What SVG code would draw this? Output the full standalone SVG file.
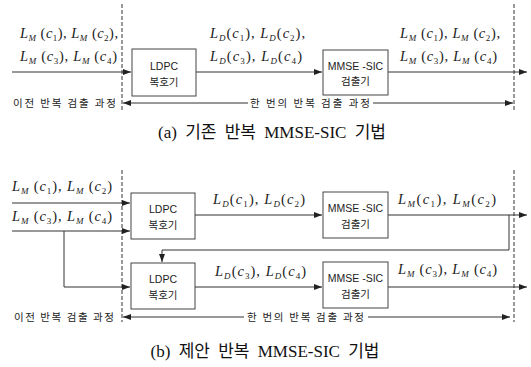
<svg xmlns="http://www.w3.org/2000/svg" width="531" height="367" viewBox="0 0 531 367">
<style>
.bg{fill:#fff}
.ln{stroke:#333;stroke-width:1;fill:none}
.dash{stroke:#333;stroke-width:1;stroke-dasharray:4 2;fill:none}
.box{stroke:#444;stroke-width:1;fill:#fff}
.m{font-family:"Liberation Serif",serif;font-size:14.5px;fill:#222}
.i{font-style:italic}
.s{font-size:9px}
.k{font-family:"Noto Sans CJK KR","Liberation Sans",sans-serif;font-size:10.5px;fill:#222}
.b{font-family:"Liberation Sans","Noto Sans CJK KR",sans-serif;font-size:10.5px;fill:#222;text-anchor:middle}
.cap{font-family:"Liberation Serif","Noto Sans CJK KR",serif;font-size:17px;fill:#111;text-anchor:middle;word-spacing:4px}
</style>
<defs>
<marker id="ah" viewBox="0 0 8 6" refX="8" refY="3" markerWidth="8" markerHeight="6" markerUnits="userSpaceOnUse" orient="auto">
<path d="M0,0 L8,3 L0,6 z" fill="#222"/>
</marker>
</defs>
<rect class="bg" x="0" y="0" width="531" height="367"/>

<!-- ===== (a) ===== -->
<g id="connectors-a">
<line class="dash" x1="122" y1="4" x2="122" y2="112"/>
<line class="dash" x1="514" y1="4" x2="514" y2="112"/>
<line class="ln" x1="12" y1="72" x2="131" y2="72" marker-end="url(#ah)"/>
<line class="ln" x1="196" y1="72" x2="322" y2="72" marker-end="url(#ah)"/>
<line class="ln" x1="388" y1="72" x2="527" y2="72" marker-end="url(#ah)"/>
<line class="ln" x1="248" y1="103" x2="123" y2="103" marker-end="url(#ah)"/>
<line class="ln" x1="373" y1="103" x2="513" y2="103" marker-end="url(#ah)"/>
</g>
<g id="a-ldpc">
<rect class="box" x="132" y="49" width="64" height="47"/>
<text class="b" x="164" y="70">LDPC</text>
<text class="k" x="164" y="86" text-anchor="middle">복호기</text>
</g>
<g id="a-mmse">
<rect class="box" x="323" y="50" width="65" height="45"/>
<text class="b" x="355.5" y="70">MMSE -SIC</text>
<text class="k" x="355.5" y="85" text-anchor="middle">검출기</text>
</g>
<g id="a-labels">
<text class="m" x="20" y="38" textLength="98" lengthAdjust="spacing"><tspan class="i">L</tspan><tspan class="s i" dy="3">M</tspan><tspan dy="-3"> (</tspan><tspan class="i">c</tspan><tspan class="s" dy="3">1</tspan><tspan dy="-3">), </tspan><tspan class="i">L</tspan><tspan class="s i" dy="3">M</tspan><tspan dy="-3"> (</tspan><tspan class="i">c</tspan><tspan class="s" dy="3">2</tspan><tspan dy="-3">),</tspan></text>
<text class="m" x="20" y="61" textLength="97" lengthAdjust="spacing"><tspan class="i">L</tspan><tspan class="s i" dy="3">M</tspan><tspan dy="-3"> (</tspan><tspan class="i">c</tspan><tspan class="s" dy="3">3</tspan><tspan dy="-3">), </tspan><tspan class="i">L</tspan><tspan class="s i" dy="3">M</tspan><tspan dy="-3"> (</tspan><tspan class="i">c</tspan><tspan class="s" dy="3">4</tspan><tspan dy="-3">)</tspan></text>
<text class="m" x="210" y="38" textLength="95" lengthAdjust="spacing"><tspan class="i">L</tspan><tspan class="s i" dy="3">D</tspan><tspan dy="-3">(</tspan><tspan class="i">c</tspan><tspan class="s" dy="3">1</tspan><tspan dy="-3">), </tspan><tspan class="i">L</tspan><tspan class="s i" dy="3">D</tspan><tspan dy="-3">(</tspan><tspan class="i">c</tspan><tspan class="s" dy="3">2</tspan><tspan dy="-3">),</tspan></text>
<text class="m" x="210" y="61" textLength="92" lengthAdjust="spacing"><tspan class="i">L</tspan><tspan class="s i" dy="3">D</tspan><tspan dy="-3">(</tspan><tspan class="i">c</tspan><tspan class="s" dy="3">3</tspan><tspan dy="-3">), </tspan><tspan class="i">L</tspan><tspan class="s i" dy="3">D</tspan><tspan dy="-3">(</tspan><tspan class="i">c</tspan><tspan class="s" dy="3">4</tspan><tspan dy="-3">)</tspan></text>
<text class="m" x="400" y="38" textLength="100" lengthAdjust="spacing"><tspan class="i">L</tspan><tspan class="s i" dy="3">M</tspan><tspan dy="-3"> (</tspan><tspan class="i">c</tspan><tspan class="s" dy="3">1</tspan><tspan dy="-3">), </tspan><tspan class="i">L</tspan><tspan class="s i" dy="3">M</tspan><tspan dy="-3"> (</tspan><tspan class="i">c</tspan><tspan class="s" dy="3">2</tspan><tspan dy="-3">),</tspan></text>
<text class="m" x="400" y="61" textLength="97" lengthAdjust="spacing"><tspan class="i">L</tspan><tspan class="s i" dy="3">M</tspan><tspan dy="-3"> (</tspan><tspan class="i">c</tspan><tspan class="s" dy="3">3</tspan><tspan dy="-3">), </tspan><tspan class="i">L</tspan><tspan class="s i" dy="3">M</tspan><tspan dy="-3"> (</tspan><tspan class="i">c</tspan><tspan class="s" dy="3">4</tspan><tspan dy="-3">)</tspan></text>
<text class="k" x="13" y="107" textLength="103" lengthAdjust="spacing">이전 반복 검출 과정</text>
<text class="k" x="250" y="107" textLength="120" lengthAdjust="spacing">한 번의 반복 검출 과정</text>
<text class="cap" x="272" y="138">(a) 기존 반복 MMSE-SIC 기법</text>
</g>

<!-- ===== (b) ===== -->
<g id="connectors-b">
<line class="dash" x1="122" y1="170" x2="122" y2="322"/>
<line class="dash" x1="514" y1="170" x2="514" y2="322"/>
<line class="ln" x1="12" y1="203" x2="130" y2="203" marker-end="url(#ah)"/>
<line class="ln" x1="12" y1="231" x2="130" y2="231" marker-end="url(#ah)"/>
<polyline class="ln" points="64,231 64,287 130,287" marker-end="url(#ah)"/>
<line class="ln" x1="195" y1="215" x2="322" y2="215" marker-end="url(#ah)"/>
<line class="ln" x1="388" y1="215" x2="527" y2="215" marker-end="url(#ah)"/>
<polyline class="ln" points="509,215 509,250 162,250 162,262" marker-end="url(#ah)"/>
<line class="ln" x1="195" y1="287" x2="322" y2="287" marker-end="url(#ah)"/>
<line class="ln" x1="388" y1="287" x2="527" y2="287" marker-end="url(#ah)"/>
<line class="ln" x1="244" y1="317" x2="123" y2="317" marker-end="url(#ah)"/>
<line class="ln" x1="368" y1="317" x2="510" y2="317" marker-end="url(#ah)"/>
</g>
<g id="b-ldpc1">
<rect class="box" x="131" y="193" width="64" height="46"/>
<text class="b" x="163" y="213">LDPC</text>
<text class="k" x="163" y="229" text-anchor="middle">복호기</text>
</g>
<g id="b-mmse1">
<rect class="box" x="323" y="192" width="65" height="46"/>
<text class="b" x="355.5" y="212">MMSE -SIC</text>
<text class="k" x="355.5" y="228" text-anchor="middle">검출기</text>
</g>
<g id="b-ldpc2">
<rect class="box" x="131" y="263" width="64" height="46"/>
<text class="b" x="163" y="283">LDPC</text>
<text class="k" x="163" y="299" text-anchor="middle">복호기</text>
</g>
<g id="b-mmse2">
<rect class="box" x="323" y="262" width="65" height="46"/>
<text class="b" x="355.5" y="282">MMSE -SIC</text>
<text class="k" x="355.5" y="298" text-anchor="middle">검출기</text>
</g>
<g id="b-labels">
<text class="m" x="12" y="191" textLength="100" lengthAdjust="spacing"><tspan class="i">L</tspan><tspan class="s i" dy="3">M</tspan><tspan dy="-3"> (</tspan><tspan class="i">c</tspan><tspan class="s" dy="3">1</tspan><tspan dy="-3">), </tspan><tspan class="i">L</tspan><tspan class="s i" dy="3">M</tspan><tspan dy="-3"> (</tspan><tspan class="i">c</tspan><tspan class="s" dy="3">2</tspan><tspan dy="-3">)</tspan></text>
<text class="m" x="12" y="221" textLength="100" lengthAdjust="spacing"><tspan class="i">L</tspan><tspan class="s i" dy="3">M</tspan><tspan dy="-3"> (</tspan><tspan class="i">c</tspan><tspan class="s" dy="3">3</tspan><tspan dy="-3">), </tspan><tspan class="i">L</tspan><tspan class="s i" dy="3">M</tspan><tspan dy="-3"> (</tspan><tspan class="i">c</tspan><tspan class="s" dy="3">4</tspan><tspan dy="-3">)</tspan></text>
<text class="m" x="213" y="204" textLength="92" lengthAdjust="spacing"><tspan class="i">L</tspan><tspan class="s i" dy="3">D</tspan><tspan dy="-3">(</tspan><tspan class="i">c</tspan><tspan class="s" dy="3">1</tspan><tspan dy="-3">), </tspan><tspan class="i">L</tspan><tspan class="s i" dy="3">D</tspan><tspan dy="-3">(</tspan><tspan class="i">c</tspan><tspan class="s" dy="3">2</tspan><tspan dy="-3">)</tspan></text>
<text class="m" x="398" y="204" textLength="98" lengthAdjust="spacing"><tspan class="i">L</tspan><tspan class="s i" dy="3">M</tspan><tspan dy="-3">(</tspan><tspan class="i">c</tspan><tspan class="s" dy="3">1</tspan><tspan dy="-3">), </tspan><tspan class="i">L</tspan><tspan class="s i" dy="3">M</tspan><tspan dy="-3">(</tspan><tspan class="i">c</tspan><tspan class="s" dy="3">2</tspan><tspan dy="-3">)</tspan></text>
<text class="m" x="215" y="276" textLength="91" lengthAdjust="spacing"><tspan class="i">L</tspan><tspan class="s i" dy="3">D</tspan><tspan dy="-3">(</tspan><tspan class="i">c</tspan><tspan class="s" dy="3">3</tspan><tspan dy="-3">), </tspan><tspan class="i">L</tspan><tspan class="s i" dy="3">D</tspan><tspan dy="-3">(</tspan><tspan class="i">c</tspan><tspan class="s" dy="3">4</tspan><tspan dy="-3">)</tspan></text>
<text class="m" x="398" y="274" textLength="99" lengthAdjust="spacing"><tspan class="i">L</tspan><tspan class="s i" dy="3">M</tspan><tspan dy="-3"> (</tspan><tspan class="i">c</tspan><tspan class="s" dy="3">3</tspan><tspan dy="-3">), </tspan><tspan class="i">L</tspan><tspan class="s i" dy="3">M</tspan><tspan dy="-3"> (</tspan><tspan class="i">c</tspan><tspan class="s" dy="3">4</tspan><tspan dy="-3">)</tspan></text>
<text class="k" x="14" y="321" textLength="100" lengthAdjust="spacing">이전 반복 검출 과정</text>
<text class="k" x="247" y="321" textLength="117" lengthAdjust="spacing">한 번의 반복 검출 과정</text>
<text class="cap" x="265" y="357">(b) 제안 반복 MMSE-SIC 기법</text>
</g>
</svg>
